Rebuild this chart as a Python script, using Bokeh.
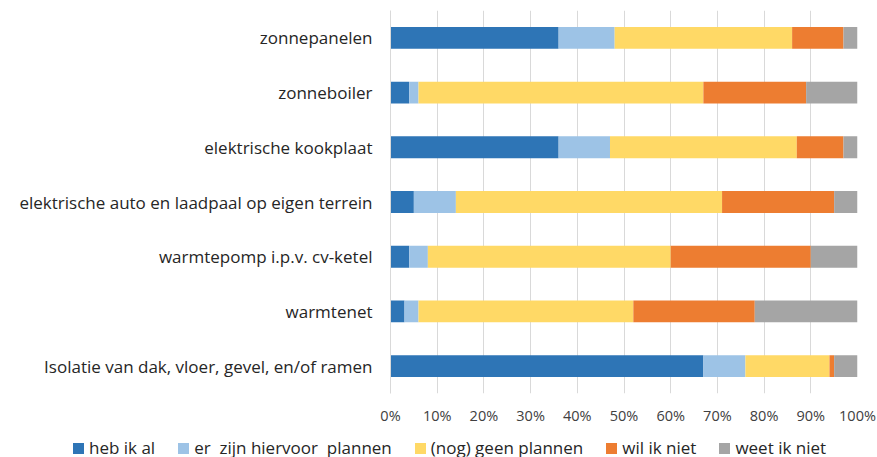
from bokeh.plotting import figure
from bokeh.models import Range1d, FixedTicker, Div
from bokeh.layouts import column
from bokeh.embed import file_html
from bokeh.resources import INLINE

categories = [
    "zonnepanelen",
    "zonneboiler",
    "elektrische kookplaat",
    "elektrische auto en laadpaal op eigen terrein",
    "warmtepomp i.p.v. cv-ketel",
    "warmtenet",
    "Isolatie van dak, vloer, gevel, en/of ramen",
]
heb_ik_al = [36, 4, 36, 5, 4, 3, 67]
er_zijn_plannen = [12, 2, 11, 9, 4, 3, 9]
geen_plannen = [38, 61, 40, 57, 52, 46, 18]
wil_ik_niet = [11, 22, 10, 24, 30, 26, 1]
weet_ik_niet = [3, 11, 3, 5, 10, 22, 5]

series_names = ["heb ik al", "er  zijn hiervoor  plannen", "(nog) geen plannen", "wil ik niet", "weet ik niet"]
colors = ["#2E75B6", "#9DC3E6", "#FFD966", "#ED7D31", "#A5A5A5"]
tick_values = [0, 10, 20, 30, 40, 50, 60, 70, 80, 90, 100]
tick_labels = ["0%", "10%", "20%", "30%", "40%", "50%", "60%", "70%", "80%", "90%", "100%"]

FONT = "Open Sans"

data = dict(cat=categories, s0=heb_ik_al, s1=er_zijn_plannen, s2=geen_plannen, s3=wil_ik_niet, s4=weet_ik_niet)
keys = ["s0", "s1", "s2", "s3", "s4"]

p = figure(
    y_range=list(reversed(categories)),
    x_range=Range1d(0, 100),
    width=877, height=430,
    output_backend="svg", toolbar_location=None,
    min_border_left=390, min_border_right=20, min_border_top=10, min_border_bottom=37,
    frame_width=467, frame_height=383,
)
p.outline_line_color = None

renderers = p.hbar_stack(keys, y="cat", height=0.4, color=colors, line_color=None, source=data)

p.xgrid.ticker = FixedTicker(ticks=tick_values)
p.xgrid.grid_line_color = "#D9D9D9"
p.xgrid.grid_line_width = 1
p.ygrid.grid_line_color = None

p.xaxis.ticker = FixedTicker(ticks=tick_values)
p.xaxis.major_label_overrides = {v: l for v, l in zip(tick_values, tick_labels)}
p.xaxis.axis_line_color = None
p.xaxis.major_tick_line_color = None
p.xaxis.minor_tick_line_color = None
p.xaxis.major_tick_out = 0
p.xaxis.major_label_standoff = 12
p.xaxis.major_label_text_font = FONT
p.xaxis.major_label_text_font_size = "14.5px"
p.xaxis.major_label_text_color = "#404040"

p.yaxis.axis_line_color = "#D9D9D9"
p.yaxis.major_tick_line_color = None
p.yaxis.minor_tick_line_color = None
p.yaxis.major_tick_out = 0
p.yaxis.major_label_standoff = 18
p.yaxis.major_label_text_font = FONT
p.yaxis.major_label_text_font_size = "17px"
p.yaxis.major_label_text_color = "#262626"

# legend row below the chart (HTML, built from the series names and colours)
item_html = "".join(
    f'<span style="display:inline-block;width:11px;height:11px;background:{c};margin-right:5px"></span>'
    f'<span style="margin-right:23px">{n}</span>'
    for n, c in zip(series_names, colors)
)
legend_div = Div(
    text=(
        '<div style="display:flex;align-items:baseline;padding-left:68px;padding-top:3px;'
        f"font-family:'{FONT}';font-size:17px;color:#262626;white-space:pre;line-height:20px\">"
        + item_html + "</div>"
    ),
    width=877, height=27,
    styles={"overflow": "hidden"},
)

layout = column(p, legend_div, spacing=0)
open("out.html", "w").write(file_html(layout, INLINE))
